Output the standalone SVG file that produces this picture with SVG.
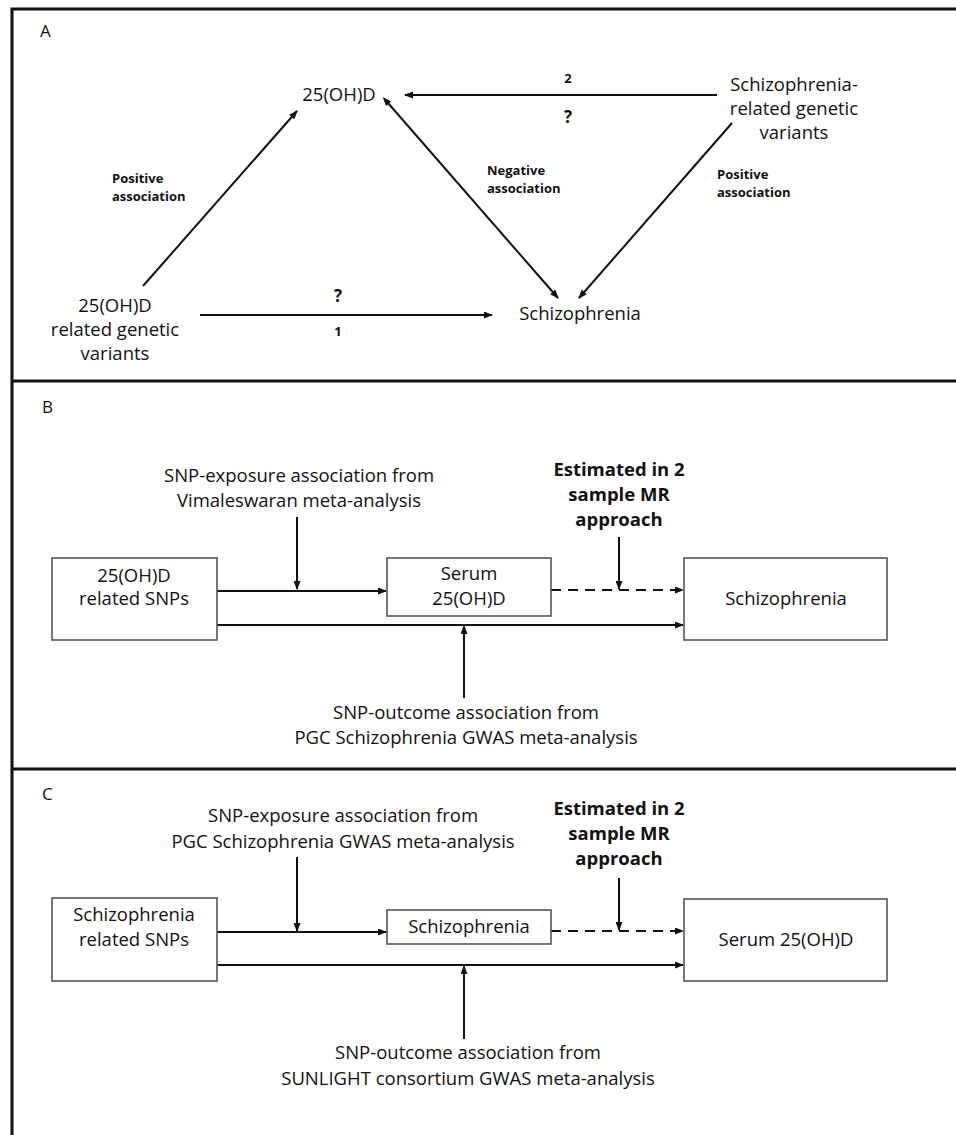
<svg xmlns="http://www.w3.org/2000/svg" width="956" height="1135" viewBox="0 0 956 1135">
<style>
.t{font-family:"Open Sans","Liberation Sans",sans-serif;font-size:18.5px;fill:#111;text-anchor:middle}
.b{font-family:"Open Sans","Liberation Sans",sans-serif;font-weight:bold;fill:#111}
.sm{font-size:13px}
.big{font-size:18.5px;text-anchor:middle}
.q{font-size:17px;text-anchor:middle}
.n{font-size:13px;text-anchor:middle}
.lbl{font-family:"Open Sans","Liberation Sans",sans-serif;font-size:17px;fill:#111}
.ln{stroke:#111;stroke-width:2;fill:none}
.dash{stroke-dasharray:10,7}
.box{fill:#fff;stroke:#555;stroke-width:1.6}
.frame{stroke:#111;stroke-width:3;fill:none}
</style>
<defs>
<marker id="ah" markerWidth="9" markerHeight="7" refX="8" refY="3.5" orient="auto" markerUnits="userSpaceOnUse">
<path d="M0,0 L9,3.5 L0,7 z" fill="#111"/>
</marker>
<marker id="ahs" markerWidth="9" markerHeight="7" refX="1" refY="3.5" orient="auto-start-reverse" markerUnits="userSpaceOnUse">
<path d="M0,0 L9,3.5 L0,7 z" fill="#111"/>
</marker>
</defs>
<rect width="956" height="1135" fill="#fff"/>
<g id="frame">
<path class="frame" d="M12,1135 V9 H956"/>
<path class="frame" d="M12,381 H956"/>
<path class="frame" d="M12,769 H956"/>
</g>
<g id="panel-labels">
<text class="lbl" x="40" y="37">A</text>
<text class="lbl" x="42" y="413">B</text>
<text class="lbl" x="42" y="800">C</text>
</g>
<g id="connectors">
<line class="ln" x1="143" y1="286" x2="297" y2="111" marker-end="url(#ah)"/>
<line class="ln" x1="200" y1="315" x2="492" y2="315" marker-end="url(#ah)"/>
<line class="ln" x1="717" y1="95" x2="405" y2="95" marker-end="url(#ah)"/>
<line class="ln" x1="388" y1="103" x2="558" y2="298" marker-start="url(#ahs)" marker-end="url(#ah)"/>
<line class="ln" x1="732" y1="123" x2="579" y2="298" marker-end="url(#ah)"/>
<line class="ln" x1="297" y1="517" x2="297" y2="589" marker-end="url(#ah)"/>
<line class="ln" x1="217" y1="591" x2="386" y2="591" marker-end="url(#ah)"/>
<line class="ln dash" x1="551" y1="590" x2="683" y2="590" marker-end="url(#ah)"/>
<line class="ln" x1="619" y1="537" x2="619" y2="589" marker-end="url(#ah)"/>
<line class="ln" x1="217" y1="625" x2="683" y2="625" marker-end="url(#ah)"/>
<line class="ln" x1="464" y1="698" x2="464" y2="626" marker-end="url(#ah)"/>
<line class="ln" x1="297" y1="857" x2="297" y2="931" marker-end="url(#ah)"/>
<line class="ln" x1="217" y1="932" x2="386" y2="932" marker-end="url(#ah)"/>
<line class="ln dash" x1="551" y1="931" x2="683" y2="931" marker-end="url(#ah)"/>
<line class="ln" x1="619" y1="878" x2="619" y2="930" marker-end="url(#ah)"/>
<line class="ln" x1="217" y1="965" x2="683" y2="965" marker-end="url(#ah)"/>
<line class="ln" x1="464" y1="1039" x2="464" y2="966" marker-end="url(#ah)"/>
</g>
<g id="edge-labels">
<text class="b sm" x="112" y="183">Positive</text>
<text class="b sm" x="112" y="201">association</text>
<text class="b sm" x="487" y="175">Negative</text>
<text class="b sm" x="487" y="193">association</text>
<text class="b sm" x="717" y="179">Positive</text>
<text class="b sm" x="717" y="197">association</text>
<text class="b q" x="338" y="302">?</text>
<text class="b n" x="338" y="336">1</text>
<text class="b n" x="568" y="83">2</text>
<text class="b q" x="568" y="123">?</text>
<text class="t" x="299" y="482">SNP-exposure association from</text>
<text class="t" x="299" y="507">Vimaleswaran meta-analysis</text>
<text class="b big" x="619" y="476">Estimated in 2</text>
<text class="b big" x="619" y="501">sample MR</text>
<text class="b big" x="619" y="526">approach</text>
<text class="t" x="466" y="719">SNP-outcome association from</text>
<text class="t" x="466" y="744">PGC Schizophrenia GWAS meta-analysis</text>
<text class="t" x="343" y="822">SNP-exposure association from</text>
<text class="t" x="343" y="848">PGC Schizophrenia GWAS meta-analysis</text>
<text class="b big" x="619" y="815">Estimated in 2</text>
<text class="b big" x="619" y="840">sample MR</text>
<text class="b big" x="619" y="865">approach</text>
<text class="t" x="468" y="1059">SNP-outcome association from</text>
<text class="t" x="468" y="1085">SUNLIGHT consortium GWAS meta-analysis</text>
</g>
<g id="nodeA-25ohd"><text class="t" x="339" y="101">25(OH)D</text></g>
<g id="nodeA-vd-variants">
<text class="t" x="115" y="312">25(OH)D</text>
<text class="t" x="115" y="336">related genetic</text>
<text class="t" x="115" y="360">variants</text>
</g>
<g id="nodeA-scz"><text class="t" x="580" y="320">Schizophrenia</text></g>
<g id="nodeA-scz-variants">
<text class="t" x="794" y="91">Schizophrenia-</text>
<text class="t" x="794" y="115">related genetic</text>
<text class="t" x="794" y="139">variants</text>
</g>
<g id="nodeB-snps">
<rect class="box" x="52" y="558" width="165" height="82"/>
<text class="t" x="134" y="582">25(OH)D</text>
<text class="t" x="134" y="605">related SNPs</text>
</g>
<g id="nodeB-serum">
<rect class="box" x="387" y="558" width="164" height="58"/>
<text class="t" x="469" y="580">Serum</text>
<text class="t" x="469" y="605">25(OH)D</text>
</g>
<g id="nodeB-scz">
<rect class="box" x="684" y="558" width="203" height="82"/>
<text class="t" x="786" y="605">Schizophrenia</text>
</g>
<g id="nodeC-snps">
<rect class="box" x="52" y="898" width="165" height="83"/>
<text class="t" x="134" y="921">Schizophrenia</text>
<text class="t" x="134" y="946">related SNPs</text>
</g>
<g id="nodeC-scz">
<rect class="box" x="387" y="910" width="164" height="34"/>
<text class="t" x="469" y="933">Schizophrenia</text>
</g>
<g id="nodeC-serum">
<rect class="box" x="684" y="899" width="203" height="82"/>
<text class="t" x="786" y="946">Serum 25(OH)D</text>
</g>
</svg>
